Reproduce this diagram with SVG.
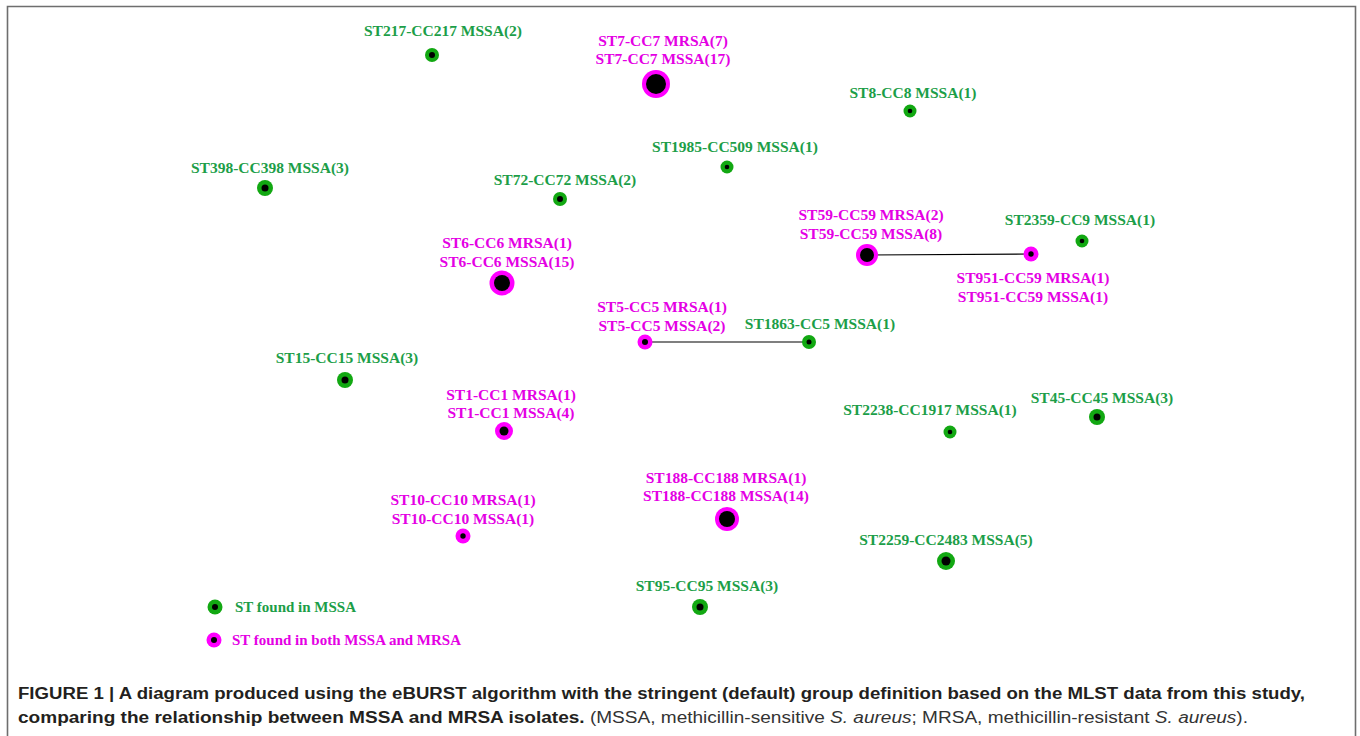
<svg xmlns="http://www.w3.org/2000/svg" width="1360" height="736" viewBox="0 0 1360 736">
<style>
text{font-family:"Liberation Serif","Times New Roman",serif;font-weight:bold;font-size:15.5px;text-anchor:middle}
.g{fill:#1c9e48}
.m{fill:#e400e4}
.gn{fill:#12a812}
.mn{fill:#ff00ff}
.c{fill:#000}
.cap{font-family:"Liberation Sans",Arial,sans-serif;font-size:16px;text-anchor:start}
.edge{stroke:#000;stroke-width:1.2;fill:none}
</style>
<rect x="0" y="0" width="1360" height="736" fill="#fff"/>
<path d="M7.5 740 V6.5 H1355.5 V740" fill="none" stroke="#6e6e6e" stroke-width="1.6"/>
<g id="connectors">
<line class="edge" x1="867" y1="255" x2="1031" y2="254"/>
<line class="edge" x1="645" y1="342" x2="809" y2="342"/>
</g>
<g id="n-st217"><text class="g" x="443" y="36">ST217-CC217 MSSA(2)</text><circle class="gn" cx="432" cy="55" r="7"/><circle class="c" cx="432" cy="55" r="3"/></g>
<g id="n-st7"><text class="m" x="663" y="46">ST7-CC7 MRSA(7)</text><text class="m" x="663" y="64">ST7-CC7 MSSA(17)</text><circle class="mn" cx="656" cy="84" r="14"/><circle class="c" cx="656" cy="84" r="10"/></g>
<g id="n-st8"><text class="g" x="913" y="98">ST8-CC8 MSSA(1)</text><circle class="gn" cx="910" cy="111" r="6.5"/><circle class="c" cx="910" cy="111" r="2.3"/></g>
<g id="n-st1985"><text class="g" x="735" y="152">ST1985-CC509 MSSA(1)</text><circle class="gn" cx="727" cy="167" r="6.5"/><circle class="c" cx="727" cy="167" r="2.3"/></g>
<g id="n-st398"><text class="g" x="270" y="173">ST398-CC398 MSSA(3)</text><circle class="gn" cx="265" cy="188" r="8"/><circle class="c" cx="265" cy="188" r="3.5"/></g>
<g id="n-st72"><text class="g" x="565" y="185">ST72-CC72 MSSA(2)</text><circle class="gn" cx="560" cy="199" r="7"/><circle class="c" cx="560" cy="199" r="3"/></g>
<g id="n-st59"><text class="m" x="871" y="220">ST59-CC59 MRSA(2)</text><text class="m" x="871" y="239">ST59-CC59 MSSA(8)</text><circle class="mn" cx="867" cy="255" r="11"/><circle class="c" cx="867" cy="255" r="7"/></g>
<g id="n-st2359"><text class="g" x="1080" y="225">ST2359-CC9 MSSA(1)</text><circle class="gn" cx="1082" cy="241" r="6.5"/><circle class="c" cx="1082" cy="241" r="2.3"/></g>
<g id="n-st951"><text class="m" x="1033" y="283">ST951-CC59 MRSA(1)</text><text class="m" x="1033" y="302">ST951-CC59 MSSA(1)</text><circle class="mn" cx="1031" cy="254" r="7.5"/><circle class="c" cx="1031" cy="254" r="2.7"/></g>
<g id="n-st6"><text class="m" x="507" y="248">ST6-CC6 MRSA(1)</text><text class="m" x="507" y="267">ST6-CC6 MSSA(15)</text><circle class="mn" cx="502" cy="283" r="12.5"/><circle class="c" cx="502" cy="283" r="8"/></g>
<g id="n-st5"><text class="m" x="662" y="312">ST5-CC5 MRSA(1)</text><text class="m" x="662" y="331">ST5-CC5 MSSA(2)</text><circle class="mn" cx="645" cy="342" r="7.5"/><circle class="c" cx="645" cy="342" r="3"/></g>
<g id="n-st1863"><text class="g" x="820" y="329">ST1863-CC5 MSSA(1)</text><circle class="gn" cx="809" cy="342" r="7"/><circle class="c" cx="809" cy="342" r="2.5"/></g>
<g id="n-st15"><text class="g" x="347" y="363">ST15-CC15 MSSA(3)</text><circle class="gn" cx="345" cy="380" r="8"/><circle class="c" cx="345" cy="380" r="3.5"/></g>
<g id="n-st1"><text class="m" x="511" y="400">ST1-CC1 MRSA(1)</text><text class="m" x="511" y="418">ST1-CC1 MSSA(4)</text><circle class="mn" cx="504" cy="431" r="9"/><circle class="c" cx="504" cy="431" r="4.5"/></g>
<g id="n-st2238"><text class="g" x="930" y="415">ST2238-CC1917 MSSA(1)</text><circle class="gn" cx="950" cy="432" r="6.5"/><circle class="c" cx="950" cy="432" r="2.3"/></g>
<g id="n-st45"><text class="g" x="1102" y="403">ST45-CC45 MSSA(3)</text><circle class="gn" cx="1097" cy="417" r="8"/><circle class="c" cx="1097" cy="417" r="3.5"/></g>
<g id="n-st188"><text class="m" x="726" y="483">ST188-CC188 MRSA(1)</text><text class="m" x="726" y="501">ST188-CC188 MSSA(14)</text><circle class="mn" cx="727" cy="519" r="12"/><circle class="c" cx="727" cy="519" r="8"/></g>
<g id="n-st10"><text class="m" x="463" y="505">ST10-CC10 MRSA(1)</text><text class="m" x="463" y="524">ST10-CC10 MSSA(1)</text><circle class="mn" cx="463" cy="536" r="7.5"/><circle class="c" cx="463" cy="536" r="2.7"/></g>
<g id="n-st2259"><text class="g" x="946" y="545">ST2259-CC2483 MSSA(5)</text><circle class="gn" cx="946" cy="561" r="9"/><circle class="c" cx="946" cy="561" r="4.5"/></g>
<g id="n-st95"><text class="g" x="707" y="591">ST95-CC95 MSSA(3)</text><circle class="gn" cx="700" cy="607" r="8"/><circle class="c" cx="700" cy="607" r="3.5"/></g>
<g id="legend">
<circle class="gn" cx="215" cy="607" r="7.5"/><circle class="c" cx="215" cy="607" r="3"/>
<text class="g" x="235" y="612" style="text-anchor:start;font-size:15px">ST found in MSSA</text>
<circle class="mn" cx="214" cy="640" r="7.5"/><circle class="c" cx="214" cy="640" r="3"/>
<text class="m" x="232" y="645" style="text-anchor:start;font-size:15px">ST found in both MSSA and MRSA</text>
</g>
<g id="caption">
<text class="cap" x="18" y="699" fill="#231f20" textLength="1287" lengthAdjust="spacingAndGlyphs">FIGURE 1 | A diagram produced using the eBURST algorithm with the stringent (default) group definition based on the MLST data from this study,</text>
<text class="cap" x="18" y="723" fill="#231f20" textLength="1230" lengthAdjust="spacingAndGlyphs">comparing the relationship between MSSA and MRSA isolates.<tspan font-weight="normal" fill="#333"> (MSSA, methicillin-sensitive <tspan font-style="italic">S. aureus</tspan>; MRSA, methicillin-resistant <tspan font-style="italic">S. aureus</tspan>).</tspan></text>
</g>
</svg>
